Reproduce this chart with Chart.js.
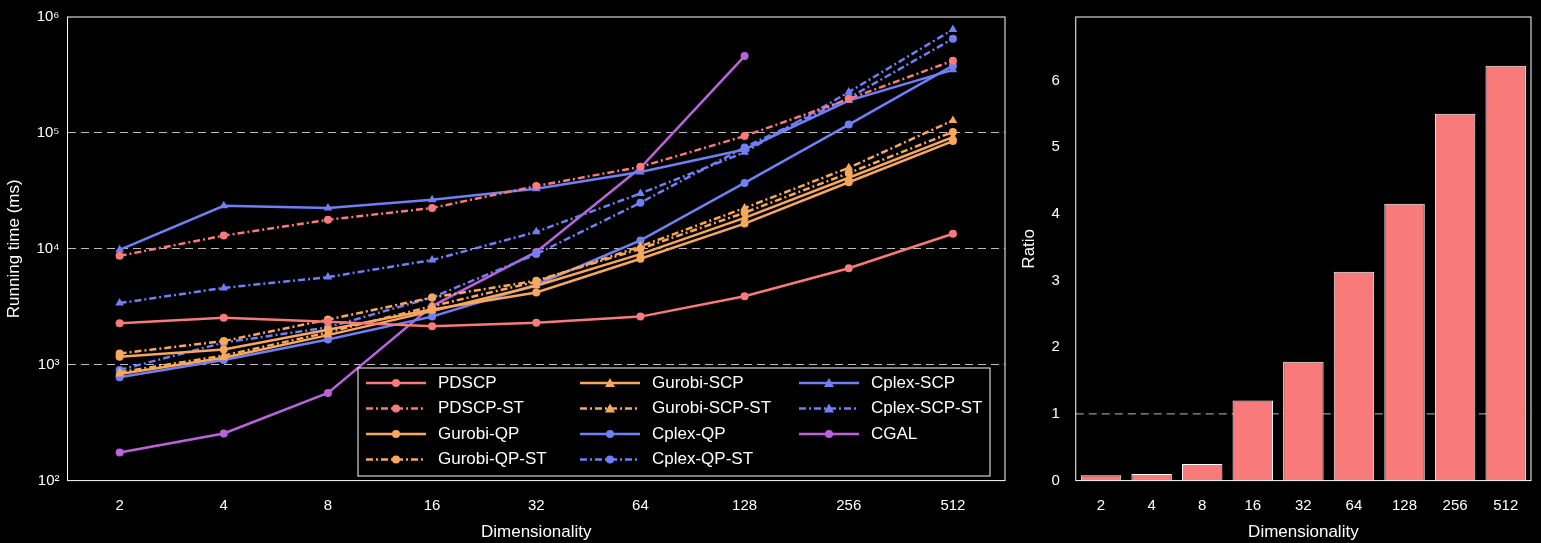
<!DOCTYPE html>
<html>
<head>
  <script src="https://cdn.jsdelivr.net/npm/chart.js"></script>
  <style>
    body { margin: 0; background: #000; }
    #wrap { position: relative; width: 1541px; height: 543px; }
    #left { position: absolute; left: 0; top: 0; }
    #right { position: absolute; left: 1015px; top: 0; }
  </style>
</head>
<body>
  <div id="wrap">
    <div id="left" style="width:1015px;height:543px;"><canvas id="c1"></canvas></div>
    <div id="right" style="width:526px;height:543px;"><canvas id="c2"></canvas></div>
  </div>
  <script>
    // dimensionality categories
    const dims = ['2', '4', '8', '16', '32', '64', '128', '256', '512'];

    // running time (ms)
    const pdscp = [2280, 2540, 2350, 2150, 2300, 2600, 3900, 6800, 13500];
    const pdscpSt = [8700, 13000, 17800, 22500, 34800, 51000, 94000, 196000, 420000];
    const gurobiQp = [1170, 1350, 2000, 3000, 4200, 8200, 16500, 37500, 85000];
    const gurobiQpSt = [1250, 1600, 2450, 3800, 5300, 10000, 20500, 45000, 102000];
    const gurobiScp = [830, 1150, 1800, 2900, 4800, 9000, 18500, 41000, 92000];
    const gurobiScpSt = [860, 1200, 1900, 3200, 5200, 10500, 22500, 50000, 128000];
    const cplexQp = [780, 1100, 1650, 2600, 4900, 11800, 37000, 118000, 380000];
    const cplexQpSt = [900, 1550, 2100, 3800, 9000, 25000, 75000, 200000, 650000];
    const cplexScp = [9800, 23500, 22500, 26500, 33000, 46000, 72000, 190000, 350000];
    const cplexScpSt = [3400, 4600, 5700, 8000, 14000, 30000, 68000, 225000, 780000];
    const cgal = [175, 255, 570, 3200, 9400, 50000, 460000, null, null];

    // ratio bars
    const ratio = [0.08, 0.1, 0.25, 1.2, 1.78, 3.13, 4.15, 5.5, 6.22];

    const RED = '#f87a7a', ORANGE = '#f7a85c', BLUE = '#6f80f7', PURPLE = '#bb62dd';
    const DASH = [7, 3, 2, 3];

    Chart.defaults.color = '#fff';
    Chart.defaults.font.family = 'Liberation Sans, Arial, sans-serif';
    Chart.defaults.font.size = 15;
    Chart.defaults.animation = false;

    function ds(label, data, color, dashed, shape) {
      return {
        label: label, data: data, borderColor: color, backgroundColor: color,
        borderWidth: 2.5, borderDash: dashed ? DASH : [], pointStyle: shape,
        pointRadius: shape === 'triangle' ? 5 : 4, pointBorderWidth: 0, tension: 0
      };
    }

    const datasets = [
      ds('PDSCP', pdscp, RED, false, 'circle'),
      ds('PDSCP-ST', pdscpSt, RED, true, 'circle'),
      ds('Gurobi-QP', gurobiQp, ORANGE, false, 'circle'),
      ds('Gurobi-QP-ST', gurobiQpSt, ORANGE, true, 'circle'),
      ds('Gurobi-SCP', gurobiScp, ORANGE, false, 'triangle'),
      ds('Gurobi-SCP-ST', gurobiScpSt, ORANGE, true, 'triangle'),
      ds('Cplex-QP', cplexQp, BLUE, false, 'circle'),
      ds('Cplex-QP-ST', cplexQpSt, BLUE, true, 'circle'),
      ds('Cplex-SCP', cplexScp, BLUE, false, 'triangle'),
      ds('Cplex-SCP-ST', cplexScpSt, BLUE, true, 'triangle'),
      ds('CGAL', cgal, PURPLE, false, 'circle')
    ];

    // white frame around plot area
    const frame = {
      id: 'frame',
      afterDraw(chart) {
        const a = chart.chartArea, ctx = chart.ctx;
        ctx.save();
        ctx.strokeStyle = '#fff';
        ctx.lineWidth = 1;
        ctx.strokeRect(a.left, a.top, a.right - a.left, a.bottom - a.top);
        ctx.restore();
      }
    };

    // legend drawn inside the plot, 3 columns
    const boxLegend = {
      id: 'boxLegend',
      afterDraw(chart) {
        const ctx = chart.ctx;
        const x0 = 358, y0 = 368, w = 632, h = 108;
        ctx.save();
        ctx.fillStyle = '#000';
        ctx.fillRect(x0, y0, w, h);
        ctx.strokeStyle = '#fff';
        ctx.lineWidth = 1;
        ctx.strokeRect(x0, y0, w, h);
        ctx.font = '17px Liberation Sans, Arial, sans-serif';
        ctx.textBaseline = 'middle';
        const colX = [8, 122, 241];
        chart.data.datasets.forEach((d, i) => {
          const col = Math.floor(i / 4), row = i % 4;
          const lx = 62 + colX[col] * 2 - (col ? colX[col] : 0);
          const bx = x0 + [8, 222, 441][col];
          const by = y0 + 15 + row * 25.5;
          ctx.strokeStyle = d.borderColor;
          ctx.lineWidth = 2.5;
          ctx.setLineDash(d.borderDash);
          ctx.beginPath(); ctx.moveTo(bx, by); ctx.lineTo(bx + 60, by); ctx.stroke();
          ctx.setLineDash([]);
          ctx.fillStyle = d.borderColor;
          ctx.beginPath();
          if (d.pointStyle === 'triangle') {
            ctx.moveTo(bx + 30, by - 5); ctx.lineTo(bx + 35, by + 4); ctx.lineTo(bx + 25, by + 4);
          } else {
            ctx.arc(bx + 30, by, 4, 0, Math.PI * 2);
          }
          ctx.fill();
          ctx.fillStyle = '#fff';
          ctx.fillText(d.label, bx + 72, by);
        });
        ctx.restore();
      }
    };

    const sup = { 2: '²', 3: '³', 4: '⁴', 5: '⁵', 6: '⁶' };

    new Chart(document.getElementById('c1'), {
      type: 'line',
      data: { labels: dims, datasets: datasets },
      plugins: [frame, boxLegend],
      options: {
        responsive: true, maintainAspectRatio: false,
        layout: { padding: { top: 12, right: 10, bottom: 0 } },
        plugins: { legend: { display: false }, tooltip: { enabled: false } },
        scales: {
          x: {
            offset: true,
            grid: { display: false },
            border: { display: false },
            ticks: { color: '#fff', padding: 8 },
            title: { display: true, text: 'Dimensionality', color: '#fff', font: { size: 17 }, padding: 0 }
          },
          y: {
            type: 'logarithmic', min: 100, max: 1000000,
            border: { display: false },
            grid: {
              color: ctx => (ctx.tick && [1e3, 1e4, 1e5].includes(ctx.tick.value)) ? '#bbb' : 'rgba(0,0,0,0)',
              tickColor: 'rgba(0,0,0,0)',
              drawTicks: false
            },
            afterBuildTicks: axis => { axis.ticks = [2, 3, 4, 5, 6].map(e => ({ value: Math.pow(10, e) })); },
            ticks: {
              color: '#fff', padding: 8,
              callback: v => '10' + sup[Math.round(Math.log10(v))]
            },
            title: { display: true, text: 'Running time (ms)', color: '#fff', font: { size: 17 } }
          }
        },
        elements: { line: { borderDashOffset: 0 } }
      }
    });
    // dashed gridlines
    Chart.instances[0].options.scales.y.grid.borderDash = [8, 5];
    Chart.instances[0].options.scales.y.border.dash = [8, 5];
    Chart.instances[0].update();

    // dashed line at ratio 1
    const refLine = {
      id: 'refLine',
      beforeDatasetsDraw(chart) {
        const a = chart.chartArea, ctx = chart.ctx;
        const y = chart.scales.y.getPixelForValue(1);
        ctx.save();
        ctx.strokeStyle = '#bbb';
        ctx.lineWidth = 1;
        ctx.setLineDash([8, 5]);
        ctx.beginPath(); ctx.moveTo(a.left, y); ctx.lineTo(a.right, y); ctx.stroke();
        ctx.restore();
      }
    };

    new Chart(document.getElementById('c2'), {
      type: 'bar',
      data: {
        labels: dims,
        datasets: [{ data: ratio, backgroundColor: RED, borderColor: '#fff', borderWidth: 1, categoryPercentage: 1, barPercentage: 0.8 }]
      },
      plugins: [frame, refLine],
      options: {
        responsive: true, maintainAspectRatio: false,
        layout: { padding: { top: 12, right: 10, bottom: 0 } },
        plugins: { legend: { display: false }, tooltip: { enabled: false } },
        scales: {
          x: {
            grid: { display: false }, border: { display: false },
            ticks: { color: '#fff', padding: 8 },
            title: { display: true, text: 'Dimensionality', color: '#fff', font: { size: 17 }, padding: 0 }
          },
          y: {
            min: 0, max: 6.95,
            grid: { display: false }, border: { display: false },
            afterBuildTicks: axis => { axis.ticks = [0, 1, 2, 3, 4, 5, 6].map(v => ({ value: v })); },
            ticks: { color: '#fff', padding: 8 },
            title: { display: true, text: 'Ratio', color: '#fff', font: { size: 17 } }
          }
        }
      }
    });
  </script>
</body>
</html>
